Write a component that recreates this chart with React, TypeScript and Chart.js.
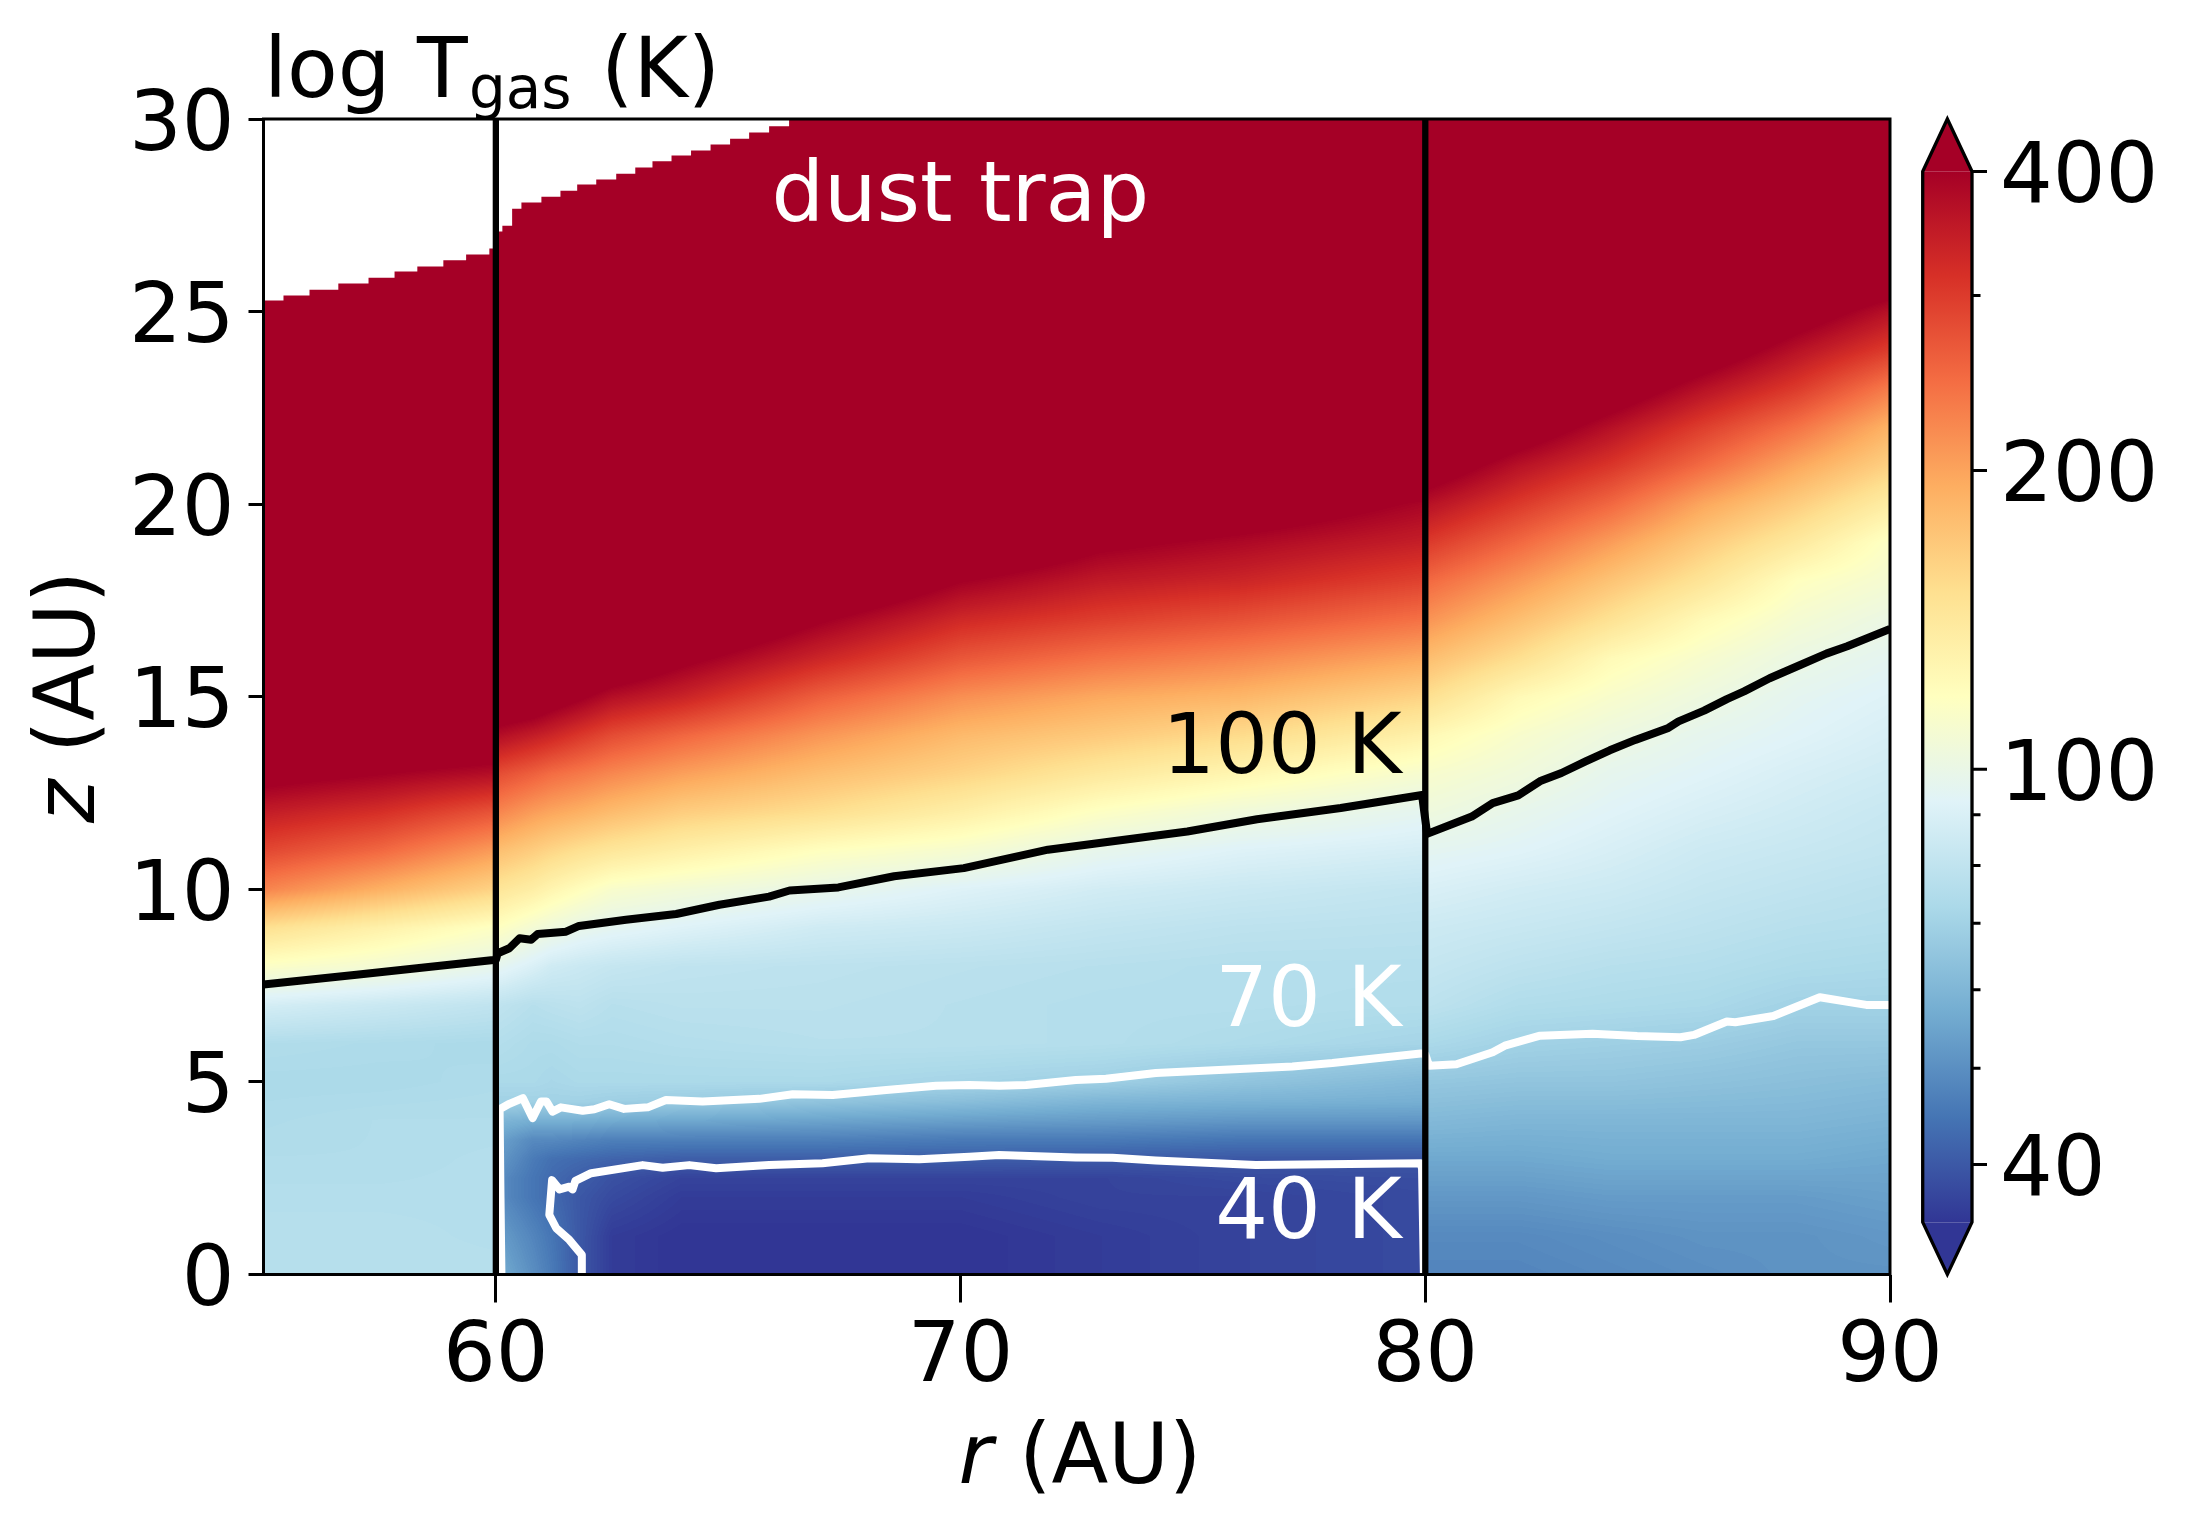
import { useEffect, useRef } from "react";
import { Chart, registerables } from "chart.js";

Chart.register(...registerables);

const FONT = '"DejaVu Sans"';

// axis ticks
const rTicks = [60, 70, 80, 90];
const zTicks = [0, 5, 10, 15, 20, 25, 30];
const cbMajor = [40, 100, 200, 400];
const cbMinor = [50, 60, 70, 80, 90, 300];

// temperature grid (K), one table for each side of the trap walls. rows follow the z list
const rA = [55, 57.5, 60];
const zA = [0, 1, 2, 3, 4, 5, 6, 7, 8, 9, 10, 11, 12, 13, 14, 15, 30];
const tempA = [
  [77, 77, 77],
  [77, 77, 76],
  [76, 76, 76],
  [75, 75, 76],
  [74, 75, 75],
  [73, 73, 74],
  [75, 74, 73],
  [88, 84, 80],
  [115, 108, 98],
  [150, 132, 116],
  [225, 190, 160],
  [285, 250, 205],
  [345, 315, 270],
  [430, 400, 370],
  [540, 510, 490],
  [600, 600, 600],
  [600, 600, 600],
];

const rB = [60, 60.8, 61.2, 61.8, 62.5, 64, 67, 70, 73, 76, 80];
const zB = [0, 1, 2, 2.5, 3, 3.5, 4, 4.5, 5, 6, 7, 8, 9, 10, 11, 12, 13, 14, 15, 16, 17, 18, 19, 20, 21, 22, 30];
const tempB = [
  [58, 50, 46, 40, 36, 35, 35, 35, 36, 37, 38],
  [54, 48, 45, 40, 36, 35, 35, 35, 36, 37, 38],
  [50, 45, 43, 40, 38, 36, 36, 36, 37, 37, 38],
  [50, 45, 43, 41, 39, 37, 37, 37, 37, 38, 38.5],
  [53, 46, 44, 43, 42, 41, 41, 41, 40.5, 40, 40],
  [55, 49, 49, 48, 47, 47, 47, 46, 46, 45, 45],
  [60, 58, 58, 58, 57, 56, 55, 54, 53, 52, 52],
  [70, 70, 70, 70, 69, 68, 65, 63, 60, 59, 58],
  [73, 73, 72, 73, 73, 73, 73, 71, 69, 65, 61],
  [76, 74, 74, 75, 75, 76, 77, 77, 76, 74, 71],
  [80, 77, 78, 79, 77, 78, 78, 77, 76, 76, 75],
  [97, 90, 86, 84, 82, 80, 79, 78, 77, 76, 76],
  [118, 108, 104, 99, 96, 92, 86, 84, 81, 79, 78],
  [145, 135, 128, 120, 112, 107, 99, 92, 87, 84, 81],
  [178, 165, 158, 150, 143, 133, 118, 110, 98, 92, 88],
  [225, 205, 198, 190, 180, 165, 151, 134, 116, 105, 96],
  [280, 258, 246, 235, 222, 203, 178, 160, 141, 127, 110],
  [375, 345, 330, 305, 280, 252, 210, 182, 168, 154, 132],
  [500, 480, 445, 410, 370, 335, 258, 216, 196, 185, 160],
  [600, 590, 565, 540, 495, 420, 330, 268, 241, 224, 196],
  [600, 600, 600, 600, 600, 530, 405, 325, 295, 274, 241],
  [600, 600, 600, 600, 600, 600, 520, 400, 350, 330, 290],
  [600, 600, 600, 600, 600, 600, 600, 510, 415, 382, 340],
  [600, 600, 600, 600, 600, 600, 600, 600, 520, 465, 388],
  [600, 600, 600, 600, 600, 600, 600, 600, 600, 590, 500],
  [600, 600, 600, 600, 600, 600, 600, 600, 600, 600, 600],
  [600, 600, 600, 600, 600, 600, 600, 600, 600, 600, 600],
];

const rC = [80, 82, 84, 86, 88, 90];
const zC = [0, 1, 2, 3, 4, 5, 6, 7, 8, 9, 10, 11, 12, 13, 14, 15, 16, 17, 18, 19, 20, 21, 22, 23, 24, 25, 26, 27, 30];
const tempC = [
  [48, 48, 49, 50, 51, 51],
  [49, 49, 50, 51, 51, 52],
  [52, 52, 53, 53, 53, 54],
  [56, 56, 57, 57, 57, 56],
  [61, 60, 60, 60, 60, 59],
  [66, 65, 65, 64, 63, 62],
  [73, 70, 69, 68, 66, 66],
  [79, 75, 74, 73, 70, 70],
  [82, 79, 77, 76, 74, 73],
  [85, 83, 81, 79, 77, 76],
  [90, 87, 85, 82, 80, 78],
  [96, 93, 89, 85, 83, 81],
  [104, 98, 93, 89, 86, 83],
  [112, 105, 97, 93, 89, 86],
  [125, 112, 103, 97, 93, 89],
  [151, 124, 112, 103, 96, 92],
  [179, 151, 123, 111, 101, 96],
  [213, 178, 148, 123, 109, 101],
  [250, 209, 173, 145, 118, 109],
  [302, 250, 205, 167, 140, 115],
  [367, 302, 250, 197, 165, 136],
  [460, 365, 306, 246, 197, 162],
  [560, 460, 368, 295, 240, 188],
  [600, 560, 460, 365, 300, 232],
  [600, 600, 560, 460, 365, 298],
  [600, 600, 600, 560, 450, 365],
  [600, 600, 600, 600, 560, 480],
  [600, 600, 600, 600, 600, 560],
  [600, 600, 600, 600, 600, 600],
];

// upper edge of the model grid, blank above it
const edgeR = [55, 55.43, 55.99, 56.61, 57.26, 57.82, 58.31, 58.87, 59.36, 59.86, 60.02, 60.14, 60.35, 60.55, 60.98, 61.39, 61.75, 62.16, 62.59, 63, 63.37, 63.78, 64.2, 64.62, 65.04, 65.45, 65.88, 66.31, 90];
const edgeZ = [25.29, 25.42, 25.57, 25.73, 25.88, 26.04, 26.17, 26.33, 26.48, 26.64, 27.08, 27.23, 27.67, 27.83, 27.98, 28.14, 28.3, 28.43, 28.58, 28.74, 28.9, 29.05, 29.18, 29.34, 29.49, 29.65, 29.81, 30, 30];

// contours
const c100R = [55, 57, 60, 60.04, 60.29, 60.51, 60.76, 60.9, 61.51, 61.79, 62.8, 63.88, 64.81, 65.88, 66.32, 67.37, 68.57, 70.07, 71.88, 74.88, 76.38, 78.18, 79.93, 80.04, 81, 81.45, 82, 82.49, 82.93, 83.45, 83.97, 84.52, 85.23, 85.45, 86, 86.49, 86.86, 87.41, 88.08, 88.63, 89.08, 90];
const c100Z = [7.53, 7.78, 8.17, 8.34, 8.47, 8.73, 8.69, 8.84, 8.9, 9.05, 9.21, 9.36, 9.6, 9.81, 9.97, 10.05, 10.34, 10.55, 11.03, 11.5, 11.82, 12.11, 12.45, 11.44, 11.89, 12.24, 12.44, 12.82, 13.02, 13.32, 13.61, 13.88, 14.19, 14.36, 14.64, 14.94, 15.14, 15.48, 15.83, 16.12, 16.31, 16.76];
const c70R = [60.12, 60.1, 60.08, 60.29, 60.58, 60.79, 60.97, 61.09, 61.22, 61.4, 61.87, 62.12, 62.44, 62.76, 63.27, 63.66, 64.45, 65.67, 66.39, 67.25, 68.4, 69.47, 70.19, 70.83, 71.41, 72.48, 73.13, 74.2, 77.14, 78, 79.9, 80, 80.08, 80.67, 81.45, 81.71, 82.47, 83.6, 84.56, 85.49, 85.78, 86.49, 86.67, 87.49, 88.49, 89.49, 90];
const c70Z = [0, 2, 4.29, 4.43, 4.58, 4.06, 4.49, 4.49, 4.23, 4.34, 4.25, 4.29, 4.42, 4.3, 4.34, 4.53, 4.49, 4.56, 4.68, 4.66, 4.79, 4.9, 4.92, 4.9, 4.92, 5.05, 5.08, 5.23, 5.4, 5.49, 5.74, 5.72, 5.42, 5.46, 5.77, 5.94, 6.2, 6.25, 6.19, 6.16, 6.22, 6.57, 6.55, 6.71, 7.2, 7, 7];
const c40R = [61.85, 61.85, 61.58, 61.3, 61.15, 61.21, 61.37, 61.58, 61.65, 61.71, 62.05, 63.16, 63.59, 64.16, 64.74, 65.88, 67.03, 68.03, 69.11, 70.19, 70.83, 72.48, 73.27, 74.2, 76.35, 79.9, 79.93, 79.97];
const c40Z = [0, 0.51, 0.9, 1.2, 1.55, 2.45, 2.21, 2.28, 2.21, 2.43, 2.63, 2.84, 2.77, 2.84, 2.76, 2.84, 2.89, 3.02, 2.99, 3.06, 3.1, 3.04, 3.03, 2.96, 2.84, 2.89, 2.75, 0];

// trap walls
const wallR = [60, 80];
const wallZ = [0, 30];

// RdYlBu_r
const cmapHex = ["#313695", "#4575b4", "#74add1", "#abd9e9", "#e0f3f8", "#ffffbf", "#fee090", "#fdae61", "#f46d43", "#d73027", "#a50026"];
const cmapRgb = cmapHex.map((h) => [parseInt(h.slice(1, 3), 16), parseInt(h.slice(3, 5), 16), parseInt(h.slice(5, 7), 16)]);
const T_MIN = 35;
const T_MAX = 400;

const lut: number[][] = [];
for (let i = 0; i < 256; i++) {
  const p = (i / 255) * (cmapRgb.length - 1);
  const k = Math.min(Math.floor(p), cmapRgb.length - 2);
  const f = p - k;
  lut.push([0, 1, 2].map((c) => cmapRgb[k][c] * (1 - f) + cmapRgb[k + 1][c] * f));
}

function pts(xs: number[], ys: number[]) {
  return xs.map((x, i) => ({ x, y: ys[i] }));
}

// for each pixel row/col: which grid interval it falls in, and how far along
function locate(nodes: number[], start: number, count: number) {
  const idx = new Int32Array(count);
  const frac = new Float32Array(count);
  let k = 0;
  for (let i = 0; i < count; i++) {
    const p = start + i + 0.5;
    while (k < nodes.length - 2 && p > nodes[k + 1]) k++;
    idx[i] = k;
    frac[i] = Math.max(0, Math.min(1, (p - nodes[k]) / (nodes[k + 1] - nodes[k])));
  }
  return { idx, frac };
}

function drawField(ctx: CanvasRenderingContext2D, x: any, y: any, rs: number[], zs: number[], temps: number[][]) {
  const xn = rs.map((r) => x.getPixelForValue(r));
  // rows top to bottom on screen
  const yn = zs.map((z) => y.getPixelForValue(z)).reverse();
  const logT = temps.map((row) => row.map((t) => Math.log(t))).reverse();
  const x0 = Math.floor(xn[0]);
  const y0 = Math.floor(yn[0]);
  const w = Math.ceil(xn[xn.length - 1]) - x0;
  const h = Math.ceil(yn[yn.length - 1]) - y0;
  const off = document.createElement("canvas");
  off.width = w;
  off.height = h;
  const octx = off.getContext("2d")!;
  const img = octx.createImageData(w, h);
  const cols = locate(xn, x0, w);
  const rows = locate(yn, y0, h);
  const lo = Math.log(T_MIN);
  const span = Math.log(T_MAX) - lo;
  let o = 0;
  for (let j = 0; j < h; j++) {
    const a = logT[rows.idx[j]];
    const b = logT[rows.idx[j] + 1];
    const fy = rows.frac[j];
    for (let i = 0; i < w; i++) {
      const k = cols.idx[i];
      const fx = cols.frac[i];
      const top = a[k] * (1 - fx) + a[k + 1] * fx;
      const bot = b[k] * (1 - fx) + b[k + 1] * fx;
      const t = (top * (1 - fy) + bot * fy - lo) / span;
      const c = lut[Math.max(0, Math.min(255, Math.floor(t * 256)))];
      img.data[o++] = c[0];
      img.data[o++] = c[1];
      img.data[o++] = c[2];
      img.data[o++] = 255;
    }
  }
  octx.putImageData(img, 0, 0);
  ctx.drawImage(off, x0, y0);
}

const fieldPlugin = {
  id: "field",
  beforeDatasetsDraw(chart: any) {
    const { ctx, scales, chartArea } = chart;
    const x = scales.x;
    const y = scales.y;
    ctx.save();
    ctx.beginPath();
    ctx.moveTo(chartArea.left, chartArea.bottom);
    edgeR.forEach((r, i) => {
      if (i === edgeR.length - 1) return;
      ctx.lineTo(x.getPixelForValue(r), y.getPixelForValue(edgeZ[i]));
      ctx.lineTo(x.getPixelForValue(edgeR[i + 1]), y.getPixelForValue(edgeZ[i]));
    });
    ctx.lineTo(chartArea.right, chartArea.bottom);
    ctx.closePath();
    ctx.clip();
    drawField(ctx, x, y, rA, zA, tempA);
    drawField(ctx, x, y, rB, zB, tempB);
    drawField(ctx, x, y, rC, zC, tempC);
    ctx.restore();
  },
  afterDraw(chart: any) {
    const { ctx, scales, chartArea } = chart;
    const x = scales.x;
    const y = scales.y;
    ctx.save();
    // frame
    ctx.strokeStyle = "#000";
    ctx.lineWidth = 3;
    ctx.strokeRect(chartArea.left, chartArea.top, chartArea.right - chartArea.left, chartArea.bottom - chartArea.top);

    // labels in the plot
    ctx.font = `83px ${FONT}`;
    ctx.textBaseline = "alphabetic";
    ctx.fillStyle = "#fff";
    ctx.textAlign = "left";
    ctx.fillText("dust trap", x.getPixelForValue(65.93), y.getPixelForValue(27.34));
    ctx.textAlign = "right";
    ctx.fillStyle = "#000";
    ctx.fillText("100 K", x.getPixelForValue(79.49), y.getPixelForValue(13.03));
    ctx.fillStyle = "#fff";
    ctx.fillText("70 K", x.getPixelForValue(79.49), y.getPixelForValue(6.45));
    ctx.fillText("40 K", x.getPixelForValue(79.49), y.getPixelForValue(0.95));

    // title with subscript
    ctx.textAlign = "left";
    ctx.fillStyle = "#000";
    ctx.fillText("log T", 264, 97);
    ctx.fillText("(K)", 601, 97);
    ctx.font = `58px ${FONT}`;
    ctx.fillText("gas", 469, 108);

    // axis titles, the variable is oblique
    ctx.font = `italic 83px ${FONT}`;
    const rw = ctx.measureText("r").width;
    const zw = ctx.measureText("z").width;
    ctx.font = `83px ${FONT}`;
    const au = " (AU)";
    const auw = ctx.measureText(au).width;
    const startX = 1080 - (rw + auw) / 2;
    ctx.font = `italic 83px ${FONT}`;
    ctx.fillText("r", startX, 1483);
    ctx.font = `83px ${FONT}`;
    ctx.fillText(au, startX + rw, 1483);

    ctx.translate(94, 697);
    ctx.rotate(-Math.PI / 2);
    const startZ = -(zw + auw) / 2;
    ctx.font = `italic 83px ${FONT}`;
    ctx.fillText("z", startZ, 0);
    ctx.font = `83px ${FONT}`;
    ctx.fillText(au, startZ + zw, 0);
    ctx.restore();
  },
};

const colorbarPlugin = {
  id: "colorbar",
  afterDraw(chart: any) {
    const { ctx, scales, chartArea } = chart;
    const y = scales.y;
    const { left, right, top, bottom } = chartArea;
    const mid = (left + right) / 2;
    const yMax = y.getPixelForValue(T_MAX);
    const yMin = y.getPixelForValue(T_MIN);
    ctx.save();
    const grad = ctx.createLinearGradient(0, yMin, 0, yMax);
    cmapHex.forEach((c, i) => grad.addColorStop(i / (cmapHex.length - 1), c));
    ctx.fillStyle = grad;
    ctx.fillRect(left, yMax, right - left, yMin - yMax);
    ctx.fillStyle = cmapHex[cmapHex.length - 1];
    ctx.beginPath();
    ctx.moveTo(left, yMax);
    ctx.lineTo(mid, top);
    ctx.lineTo(right, yMax);
    ctx.closePath();
    ctx.fill();
    ctx.fillStyle = cmapHex[0];
    ctx.beginPath();
    ctx.moveTo(left, yMin);
    ctx.lineTo(mid, bottom);
    ctx.lineTo(right, yMin);
    ctx.closePath();
    ctx.fill();

    ctx.strokeStyle = "#000";
    ctx.lineWidth = 3.3;
    ctx.beginPath();
    ctx.moveTo(left, yMax);
    ctx.lineTo(mid, top);
    ctx.lineTo(right, yMax);
    ctx.lineTo(right, yMin);
    ctx.lineTo(mid, bottom);
    ctx.lineTo(left, yMin);
    ctx.closePath();
    ctx.stroke();

    ctx.lineWidth = 3;
    ctx.beginPath();
    cbMajor.forEach((v) => {
      ctx.moveTo(right, y.getPixelForValue(v));
      ctx.lineTo(right + 15, y.getPixelForValue(v));
    });
    cbMinor.forEach((v) => {
      ctx.moveTo(right, y.getPixelForValue(v));
      ctx.lineTo(right + 8.5, y.getPixelForValue(v));
    });
    ctx.stroke();
    ctx.restore();
  },
};

const line = (data: { x: number; y: number }[], color: string, width: number, order: number) => ({
  data,
  showLine: true,
  borderColor: color,
  borderWidth: width,
  pointRadius: 0,
  tension: 0,
  fill: false,
  order,
  borderJoinStyle: "round" as const,
});

export default function App() {
  const mainRef = useRef<HTMLCanvasElement>(null);
  const barRef = useRef<HTMLCanvasElement>(null);

  useEffect(() => {
    if (!mainRef.current || !barRef.current) return;

    const main = new Chart(mainRef.current, {
      type: "scatter",
      data: {
        datasets: [
          line(pts([wallR[0], wallR[0]], wallZ), "#000", 6.3, 0),
          line(pts([wallR[1], wallR[1]], wallZ), "#000", 6.3, 0),
          line(pts(c100R, c100Z), "#000", 8, 1),
          line(pts(c70R, c70Z), "#fff", 8, 2),
          line(pts(c40R, c40Z), "#fff", 8, 2),
        ],
      },
      options: {
        responsive: false,
        animation: false,
        devicePixelRatio: 1,
        layout: { autoPadding: false, padding: { top: 119, right: 299, left: 0, bottom: 0 } },
        plugins: { legend: { display: false }, tooltip: { enabled: false } },
        scales: {
          x: {
            type: "linear",
            min: 55,
            max: 90,
            afterBuildTicks: (s: any) => {
              s.ticks = rTicks.map((value) => ({ value }));
            },
            afterFit: (s: any) => {
              s.height = 251.5;
            },
            border: { display: false },
            grid: { drawOnChartArea: false, tickLength: 28, tickWidth: 3, tickColor: "#000" },
            ticks: { autoSkip: false, maxRotation: 0, color: "#000", padding: 7, font: { family: "DejaVu Sans", size: 83 } },
          },
          y: {
            type: "linear",
            min: 0,
            max: 30,
            afterBuildTicks: (s: any) => {
              s.ticks = zTicks.map((value) => ({ value }));
            },
            afterFit: (s: any) => {
              s.width = 263.5;
            },
            border: { display: false },
            grid: { drawOnChartArea: false, tickLength: 15, tickWidth: 3, tickColor: "#000" },
            ticks: { autoSkip: false, color: "#000", padding: 14, labelOffset: 9, font: { family: "DejaVu Sans", size: 83 } },
          },
        },
      },
      plugins: [fieldPlugin],
    });

    const bar = new Chart(barRef.current, {
      type: "scatter",
      data: { datasets: [] },
      options: {
        responsive: false,
        animation: false,
        devicePixelRatio: 1,
        layout: { autoPadding: false, padding: { top: 119, right: 0, left: 1922.7, bottom: 0 } },
        plugins: { legend: { display: false }, tooltip: { enabled: false } },
        scales: {
          x: {
            display: true,
            afterFit: (s: any) => {
              s.height = 251.5;
            },
            border: { display: false },
            grid: { display: false },
            ticks: { display: false },
          },
          y: {
            type: "logarithmic",
            position: "right",
            min: 31,
            max: 451.7,
            afterBuildTicks: (s: any) => {
              s.ticks = [...cbMajor, ...cbMinor].map((value) => ({ value }));
            },
            afterFit: (s: any) => {
              s.width = 217;
            },
            border: { display: false },
            grid: { display: false, tickLength: 15 },
            ticks: {
              autoSkip: false,
              color: "#000",
              padding: 13,
              labelOffset: 9,
              font: { family: "DejaVu Sans", size: 83 },
              callback: (v: any) => (cbMajor.includes(Number(v)) ? String(v) : ""),
            },
          },
        },
      },
      plugins: [colorbarPlugin],
    });

    return () => {
      main.destroy();
      bar.destroy();
    };
  }, []);

  return (
    <div style={{ position: "absolute", left: 0, top: 0, width: 2189, height: 1526, background: "#fff" }}>
      <canvas ref={mainRef} width={2189} height={1526} style={{ position: "absolute", left: 0, top: 0 }} />
      <canvas ref={barRef} width={2189} height={1526} style={{ position: "absolute", left: 0, top: 0 }} />
    </div>
  );
}
